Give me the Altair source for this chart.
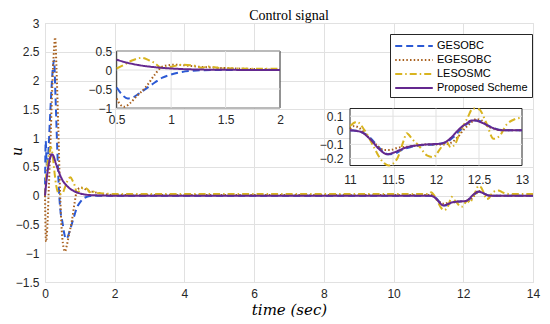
import altair as alt
import pandas as pd

SERIES = ["GESOBC", "EGESOBC", "LESOSMC", "Proposed Scheme"]
COLORS = ["#2b59d4", "#a8601e", "#d8b420", "#64288f"]
DASHES = [[7, 4], [1.5, 2.2], [7, 3, 1.5, 3], [1, 0]]
WIDTHS = [2, 2, 2, 2.6]

ges_t = [0, 0.02, 0.05, 0.09, 0.14, 0.19, 0.23, 0.26, 0.3, 0.35, 0.4, 0.45, 0.5, 0.55, 0.6, 0.65, 0.7, 0.77, 0.85, 0.92,
         1.0, 1.1, 1.2, 1.3, 1.5, 2.0, 11.0, 11.12, 11.23, 11.35, 11.44, 11.52, 11.6, 11.7, 11.85, 12.0,
         12.12, 12.2, 12.28, 12.36, 12.44, 12.52, 12.6, 12.7, 12.8, 13.0, 14.0]
ges_u = [0, 0.95, 0.55, 0.7, 1.3, 1.9, 2.25, 2.35, 1.75, 0.85, 0.1, -0.3, -0.46, -0.65, -0.75, -0.72, -0.63, -0.49, -0.33, -0.2,
         -0.12, -0.05, -0.02, -0.005, 0, 0, 0, -0.01, -0.05, -0.13, -0.17, -0.165, -0.14, -0.12, -0.105, -0.1,
         -0.085, -0.05, 0.0, 0.045, 0.07, 0.065, 0.035, 0.01, 0, 0, 0]

ege_t = [0, 0.03, 0.07, 0.11, 0.16, 0.21, 0.26, 0.29, 0.33, 0.38, 0.43, 0.48, 0.5, 0.53, 0.57, 0.62, 0.68, 0.77, 0.85, 0.9,
         0.96, 1.03, 1.1, 1.2, 1.35, 1.5, 1.7, 2.0, 11.0, 11.05, 11.1, 11.2, 11.3, 11.4, 11.47, 11.55, 11.7, 11.9,
         12.1, 12.17, 12.25, 12.33, 12.4, 12.47, 12.53, 12.6, 12.68, 12.8, 13.0, 14.0]
ege_u = [0, -0.8, -0.5, 0.15, 1.0, 1.9, 2.55, 2.75, 2.2, 1.2, 0.1, -0.6, -0.75, -0.9, -0.97, -0.88, -0.7, -0.44, -0.12, 0.05,
         0.12, 0.14, 0.13, 0.1, 0.07, 0.05, 0.03, 0.01, 0.01, 0.03, 0.02, -0.04, -0.1, -0.14, -0.14, -0.125, -0.115, -0.1,
         -0.1, -0.09, -0.05, 0.01, 0.05, 0.08, 0.07, 0.03, 0.01, 0.0, 0.0, 0.0]

les_t = [0, 0.03, 0.07, 0.12, 0.17, 0.22, 0.27, 0.32, 0.38, 0.44, 0.5, 0.57, 0.64, 0.73, 0.8, 0.85, 0.91, 0.99, 1.1, 1.22,
         1.28, 1.34, 1.45, 1.6, 2.0, 11.0, 11.08, 11.17, 11.27, 11.35, 11.45, 11.55, 11.62, 11.66, 11.72,
         11.8, 11.9, 11.97, 12.05, 12.12, 12.17, 12.22, 12.28, 12.36, 12.43, 12.5, 12.58, 12.67, 12.74, 12.82, 12.92,
         13.0, 13.15, 13.3, 14.0]
les_u = [0, 0.3, 0.55, 0.72, 0.84, 0.7, 0.42, 0.18, 0.05, 0.03, 0.04, 0.14, 0.25, 0.32, 0.25, 0.18, 0.06, 0.08, 0.14, 0.11,
         0.06, 0.09, 0.05, 0.04, 0.03, 0.03, 0.06, 0.0, -0.11, -0.2, -0.25, -0.2, -0.08, -0.02, -0.06,
         -0.11, -0.18, -0.19, -0.13, -0.08, -0.12, -0.1, -0.01, 0.08, 0.17, 0.15, 0.06, -0.06, -0.04, 0.04, 0.08,
         0.09, 0.05, 0.03, 0.03]

pro_t = [0, 0.05, 0.1, 0.15, 0.2, 0.25, 0.3, 0.4, 0.5, 0.6, 0.7, 0.8, 0.9, 1.0, 1.1, 1.3, 1.5, 2.0,
         11.0, 11.12, 11.23, 11.35, 11.43, 11.5, 11.58, 11.66, 11.78, 11.9, 12.05, 12.12, 12.18, 12.24, 12.3, 12.36,
         12.41, 12.46, 12.51, 12.57, 12.63, 12.69, 12.76, 12.85, 13.0, 14.0]
pro_u = [0, 0.3, 0.52, 0.66, 0.72, 0.68, 0.58, 0.41, 0.27, 0.19, 0.13, 0.09, 0.06, 0.04, 0.025, 0.01, 0.005, 0,
         0, -0.01, -0.06, -0.14, -0.17, -0.16, -0.14, -0.12, -0.107, -0.1, -0.095, -0.08, -0.05, -0.01, 0.025, 0.05,
         0.07, 0.07, 0.06, 0.045, 0.025, 0.01, 0, 0, 0, 0]

x_ticks = [0, 2, 4, 6, 8, 10, 12, 14]
y_ticks = [-1.5, -1, -0.5, 0, 0.5, 1, 1.5, 2, 2.5, 3]
in1_xticks = [0.5, 1, 1.5, 2]
in1_yticks = [-1, -0.5, 0, 0.5]
in2_xticks = [11, 11.5, 12, 12.5, 13]
in2_yticks = [-0.2, -0.1, 0, 0.1]

frames = []
for name, t, u in zip(SERIES, [ges_t, ege_t, les_t, pro_t], [ges_u, ege_u, les_u, pro_u]):
    frames.append(pd.DataFrame({"t": t, "u": u, "series": name}))
df = pd.concat(frames, ignore_index=True)

W, H = 488, 259
SANS = "Liberation Sans"
GRID = "#e1e1e1"
BOX = "#262626"
LBL = "#262626"

legend = alt.Legend(title=None, orient="none", legendX=345, legendY=11, direction="vertical",
                    symbolType="M-2.8,0H2.8", symbolSize=180, symbolStrokeWidth=2, symbolOffset=12,
                    labelFont=SANS, labelFontSize=11, labelColor="black", strokeColor=BOX, fillColor="white",
                    padding=4, rowPadding=1, labelOffset=15, cornerRadius=0, labelLimit=300)
color = alt.Color("series:N", scale=alt.Scale(domain=SERIES, range=COLORS), legend=legend, sort=SERIES)
dash = alt.StrokeDash("series:N", scale=alt.Scale(domain=SERIES, range=DASHES), legend=legend, sort=SERIES)
swidth = alt.StrokeWidth("series:N", scale=alt.Scale(domain=SERIES, range=WIDTHS), legend=None)

main = alt.Chart(df).mark_line(interpolate="monotone").encode(
    x=alt.X("t:Q", scale=alt.Scale(domain=[0, 14], nice=False, zero=False),
            axis=alt.Axis(values=x_ticks, format="~g", title="time (sec)", titleFont="DejaVu Serif",
                          titleFontStyle="italic", titleFontWeight="normal", titleFontSize=15, titleColor="black",
                          titlePadding=3, labelFont=SANS, labelFontSize=12, labelColor=LBL, labelPadding=6,
                          labelFlush=False, ticks=False, domain=False, grid=True, gridColor=GRID, orient="bottom")),
    y=alt.Y("u:Q", scale=alt.Scale(domain=[-1.5, 3], nice=False, zero=False),
            axis=alt.Axis(values=y_ticks, format="~g", title="u", titleFont="DejaVu Serif",
                          titleFontStyle="italic", titleFontWeight="normal", titleFontSize=14, titleColor="black",
                          titleX=-28, titleY=128, titleAngle=270, titleBaseline="middle", titleAlign="center",
                          labelFont=SANS, labelFontSize=12, labelColor=LBL, labelPadding=6,
                          labelFlush=False, ticks=False, domain=False, grid=True, gridColor=GRID, orient="left")),
    color=color, strokeDash=dash, strokeWidth=swidth,
)


def inset(xdom, ydom, xr, yr, xticks, yticks, xpad, ypad):
    xs = alt.Scale(domain=xdom, range=xr, nice=False, zero=False, clamp=True)
    ys = alt.Scale(domain=ydom, range=yr, nice=False, zero=False, clamp=True)
    xax = alt.Axis(orient="bottom", offset=yr[0] - H, values=xticks, format="~g", grid=False, domain=False,
                   ticks=False, title=None, labelFont=SANS, labelFontSize=12, labelColor=LBL,
                   labelPadding=xpad, labelFlush=False)
    yax = alt.Axis(orient="left", offset=-xr[0], values=yticks, format="~g", grid=False, domain=False,
                   ticks=False, title=None, labelFont=SANS, labelFontSize=12, labelColor=LBL,
                   labelPadding=ypad, labelFlush=False)
    bg = alt.Chart(pd.DataFrame({"a": [0]})).mark_rect(fill="white", stroke=BOX, strokeWidth=1).encode(
        x=alt.X(datum=xdom[0], type="quantitative", scale=xs, axis=xax),
        x2=alt.datum(xdom[1]),
        y=alt.Y(datum=ydom[0], type="quantitative", scale=ys, axis=yax),
        y2=alt.datum(ydom[1]),
    )
    vg = alt.Chart(pd.DataFrame({"g": xticks[1:-1]})).mark_rule(color=GRID, strokeWidth=1).encode(
        x=alt.X("g:Q", scale=xs, axis=xax),
        y=alt.Y(datum=ydom[0], type="quantitative", scale=ys, axis=yax),
        y2=alt.datum(ydom[1]),
    )
    hg = alt.Chart(pd.DataFrame({"g": yticks})).mark_rule(color=GRID, strokeWidth=1).encode(
        y=alt.Y("g:Q", scale=ys, axis=yax),
        x=alt.X(datum=xdom[0], type="quantitative", scale=xs, axis=xax),
        x2=alt.datum(xdom[1]),
    )
    lines = alt.Chart(df).transform_filter(
        (alt.datum.t >= xdom[0]) & (alt.datum.t <= xdom[1])
    ).mark_line(interpolate="monotone").encode(
        x=alt.X("t:Q", scale=xs, axis=xax),
        y=alt.Y("u:Q", scale=ys, axis=yax),
        color=color, strokeDash=dash, strokeWidth=swidth,
    )
    return alt.layer(bg, vg, hg, lines)


in1 = inset([0.5, 2], [-1, 0.5], [71.7, 235], [85, 28], in1_xticks, in1_yticks, 6, 5)
in2 = inset([11, 13], [-0.25, 0.155], [305, 477], [142.5, 85.5], in2_xticks, in2_yticks, 9, 7)

chart = alt.layer(main, in1, in2).resolve_scale(x="independent", y="independent").properties(
    width=W, height=H,
    title=alt.TitleParams("Control signal", font="Liberation Serif", fontSize=14, fontWeight="normal",
                          color="black", offset=0, dy=6, anchor="middle", frame="group"),
    autosize=alt.AutoSizeParams(type="none"),
    padding={"left": 37, "top": 15, "right": 9, "bottom": 36},
).configure_view(stroke=BOX, strokeWidth=1).configure(background="white")

chart.save("out.html", embed_options={"renderer": "svg", "actions": False})
